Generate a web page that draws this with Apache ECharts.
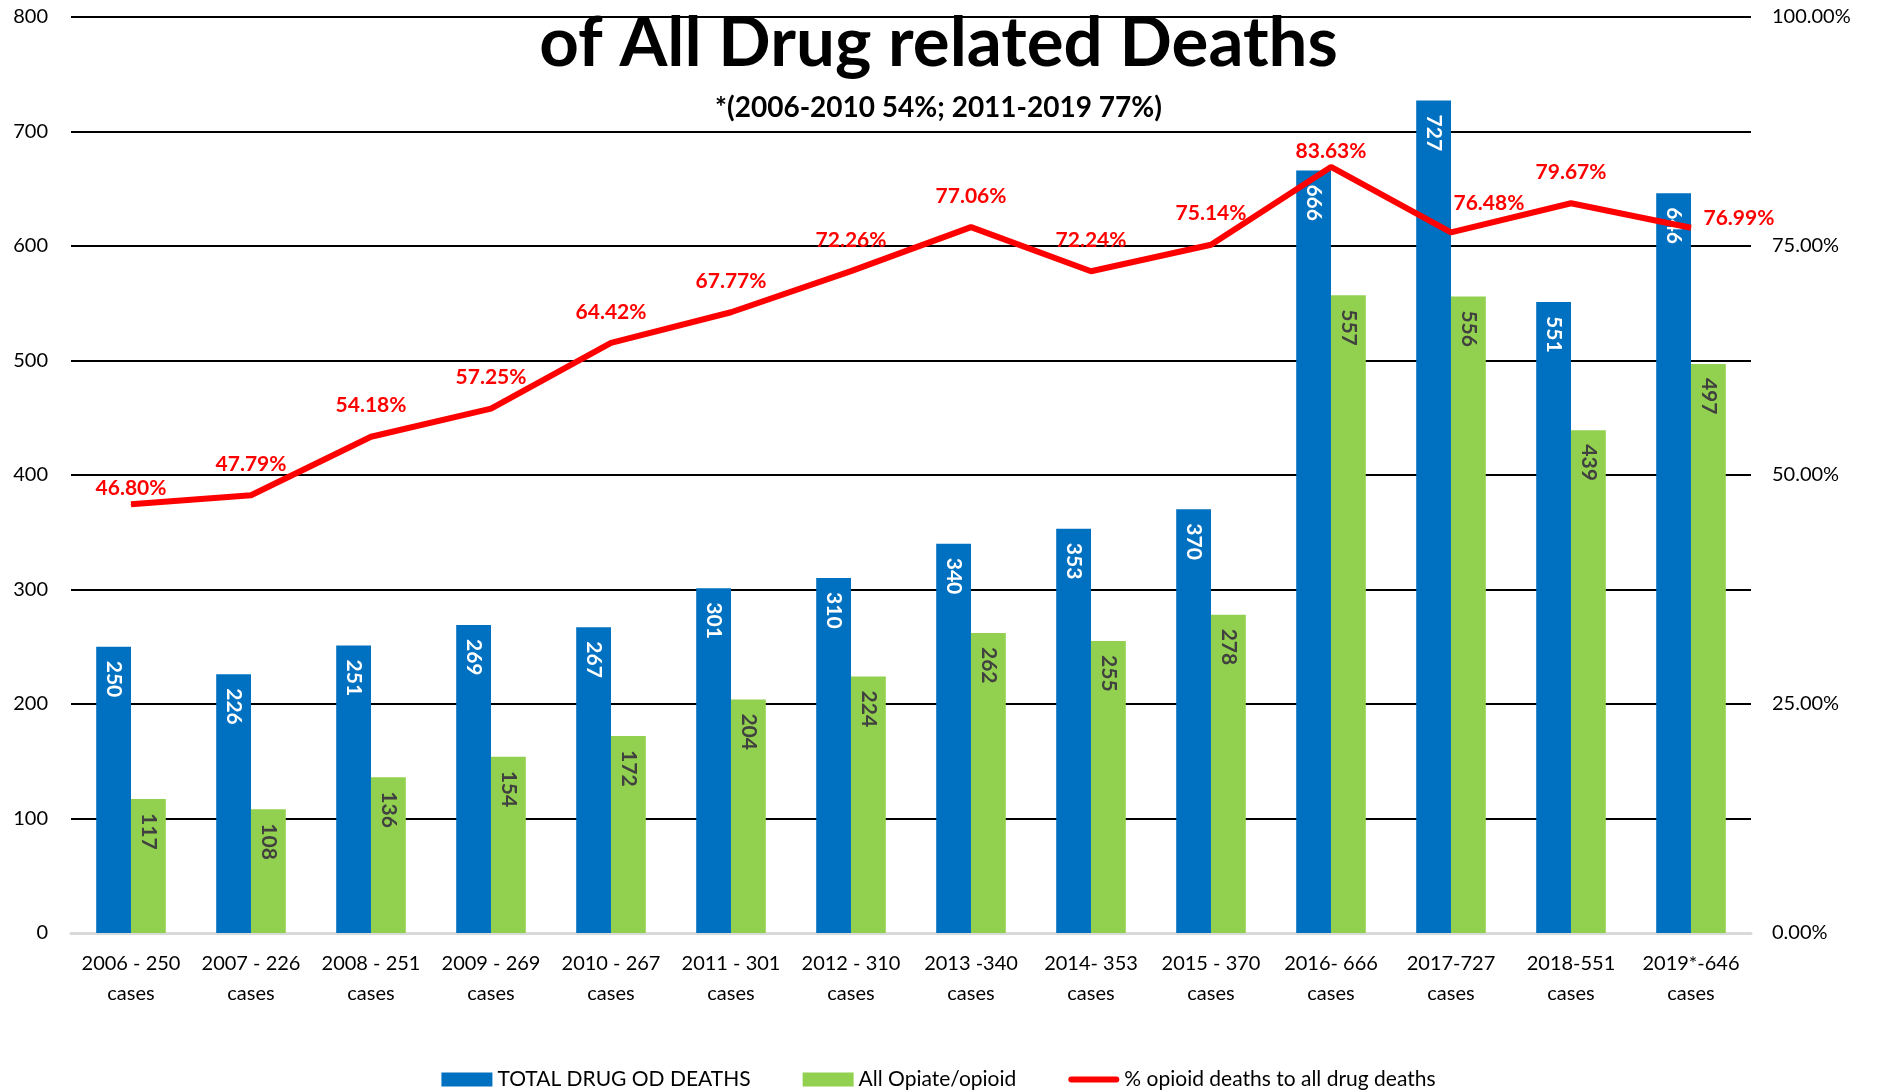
<!DOCTYPE html>
<html>
<head>
<meta charset="utf-8">
<script src="https://cdn.jsdelivr.net/npm/echarts@6/dist/echarts.min.js"></script>
<style>
  html, body { margin: 0; padding: 0; background: #fff; }
  #main { width: 1877px; height: 1091px; }
</style>
</head>
<body>
<div id="main"></div>
<script>
var years = ['2006 - 250', '2007 - 226', '2008 - 251', '2009 - 269', '2010 - 267', '2011 - 301', '2012 - 310',
  '2013 -340', '2014- 353', '2015 - 370', '2016- 666', '2017-727', '2018-551', '2019*-646'];
var totalDeaths = [250, 226, 251, 269, 267, 301, 310, 340, 353, 370, 666, 727, 551, 646];
var opioidDeaths = [117, 108, 136, 154, 172, 204, 224, 262, 255, 278, 557, 556, 439, 497];
var opioidPct = [46.80, 47.79, 54.18, 57.25, 64.42, 67.77, 72.26, 77.06, 72.24, 75.14, 83.63, 76.48, 79.67, 76.99];

var FONT = 'Lato';

var chart = echarts.init(document.getElementById('main'));

// a few of the red labels sit in a different spot than the rest
var pctData = opioidPct.map(function (v, i) {
  var item = { value: v };
  if (i === 0 || i === 10) {
    item.label = { distance: 5 };
  } else if (i === 11) {
    item.label = { position: 'right', distance: 2, offset: [0, -29] };
  } else if (i === 13) {
    item.label = { position: 'right', distance: 12, offset: [0, -10] };
  }
  return item;
});

var option = {
  animation: false,
  textStyle: { fontFamily: FONT },
  title: {
    text: 'of All Drug related Deaths',
    subtext: '*(2006-2010 54%; 2011-2019 77%)',
    left: 'center',
    top: 4,
    itemGap: 16,
    textStyle: { fontFamily: FONT, fontSize: 69, fontWeight: 'bold', color: '#000' },
    subtextStyle: { fontFamily: FONT, fontSize: 28, fontWeight: 'bold', color: '#000' }
  },
  legend: {
    bottom: -4,
    left: 'center',
    itemWidth: 51,
    itemHeight: 14,
    itemGap: 52,
    textStyle: { fontFamily: FONT, fontSize: 21, color: '#000' },
    data: [
      { name: 'TOTAL DRUG OD DEATHS', icon: 'rect' },
      { name: 'All Opiate/opioid', icon: 'rect' },
      { name: '% opioid deaths to all drug deaths', icon: 'path://M3,0 L48,0 A3,3 0 0 1 48,6 L3,6 A3,3 0 0 1 3,0 Z' }
    ]
  },
  grid: { left: 71, right: 126, top: 17, bottom: 158 },
  xAxis: {
    type: 'category',
    data: years,
    axisTick: { show: false },
    axisLine: { lineStyle: { color: '#d9d9d9', width: 3 } },
    axisLabel: {
      color: '#000',
      fontSize: 20,
      lineHeight: 30,
      margin: 16,
      interval: 0,
      formatter: function (v) { return v + '\ncases'; }
    }
  },
  yAxis: [
    {
      type: 'value',
      min: 0,
      max: 800,
      interval: 100,
      axisLine: { show: false },
      axisTick: { show: false },
      axisLabel: { color: '#000', fontSize: 20, margin: 23 },
      splitLine: { lineStyle: { color: '#000', width: 2 } }
    },
    {
      type: 'value',
      min: 0,
      max: 100,
      interval: 25,
      axisLine: { show: false },
      axisTick: { show: false },
      splitLine: { show: false },
      axisLabel: {
        color: '#000',
        fontSize: 20,
        margin: 21,
        formatter: function (v) { return v.toFixed(2) + '%'; }
      }
    }
  ],
  series: [
    {
      name: 'TOTAL DRUG OD DEATHS',
      type: 'bar',
      data: totalDeaths,
      barGap: '0%',
      barCategoryGap: '42%',
      itemStyle: { color: '#0070c0' },
      label: {
        show: true,
        position: 'insideTop',
        distance: 14,
        rotate: -90,
        align: 'left',
        verticalAlign: 'middle',
        color: '#fff',
        fontSize: 21,
        fontWeight: 'bold'
      }
    },
    {
      name: 'All Opiate/opioid',
      type: 'bar',
      data: opioidDeaths,
      itemStyle: { color: '#92d050' },
      label: {
        show: true,
        position: 'insideTop',
        distance: 14,
        rotate: -90,
        align: 'left',
        verticalAlign: 'middle',
        color: '#404040',
        fontSize: 21,
        fontWeight: 'bold'
      }
    },
    {
      name: '% opioid deaths to all drug deaths',
      type: 'line',
      yAxisIndex: 1,
      data: pctData,
      symbol: 'circle',
      symbolSize: 1,
      showSymbol: true,
      z: 5,
      lineStyle: { color: '#ff0000', width: 6 },
      itemStyle: { color: '#ff0000' },
      label: {
        show: true,
        position: 'top',
        distance: 20,
        color: '#ff0000',
        fontSize: 21,
        fontWeight: 'bold',
        formatter: function (p) { return p.value.toFixed(2) + '%'; }
      }
    }
  ]
};

chart.setOption(option);
</script>
</body>
</html>
